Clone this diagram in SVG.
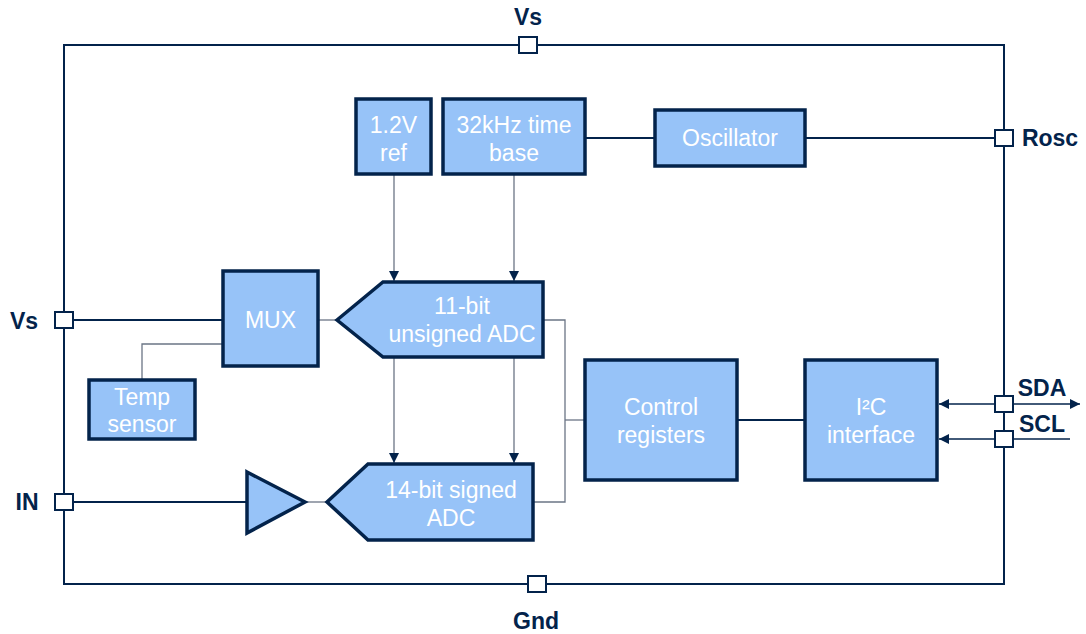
<svg xmlns="http://www.w3.org/2000/svg" width="1086" height="634" viewBox="0 0 1086 634">
<defs>
<style>
.blk{fill:#97c3f8;stroke:#03234b;stroke-width:3.5}
.t{font-family:"Liberation Sans",Arial,sans-serif;font-size:23px;fill:#ffffff;text-anchor:middle}
.pl{font-family:"Liberation Sans",Arial,sans-serif;font-size:23px;font-weight:bold;fill:#03234b;text-anchor:middle}
.pin{fill:#ffffff;stroke:#03234b;stroke-width:2}
.thin{fill:none;stroke:#6b7585;stroke-width:1.3}
.nav{fill:none;stroke:#03234b;stroke-width:2}
</style>
<marker id="ah" viewBox="0 0 10 10" refX="10" refY="5" markerWidth="10" markerHeight="10" markerUnits="userSpaceOnUse" orient="auto">
<path d="M0,0 L10,5 L0,10 z" fill="#03234b"/>
</marker>
</defs>
<rect width="1086" height="634" fill="#ffffff"/>
<g id="frame">
<rect x="64" y="45" width="940" height="539" fill="none" stroke="#03234b" stroke-width="2"/>
</g>
<g id="connectors">
<line class="thin" x1="394" y1="174" x2="394" y2="281" marker-end="url(#ah)"/>
<line class="thin" x1="514" y1="174" x2="514" y2="281" marker-end="url(#ah)"/>
<line class="thin" x1="394" y1="357" x2="394" y2="463" marker-end="url(#ah)"/>
<line class="thin" x1="514" y1="357" x2="514" y2="463" marker-end="url(#ah)"/>
<line class="nav" x1="585" y1="138" x2="655" y2="138"/>
<line class="nav" x1="805" y1="138" x2="997" y2="138"/>
<line class="nav" x1="71" y1="320" x2="223" y2="320"/>
<polyline class="thin" points="142,380 142,344 223,344"/>
<line class="thin" x1="318" y1="320" x2="337" y2="320"/>
<line class="nav" x1="71" y1="502" x2="247" y2="502"/>
<line class="thin" x1="305" y1="502" x2="327" y2="502"/>
<polyline class="thin" points="543,320 565,320 565,502 533,502"/>
<line class="thin" x1="565" y1="420" x2="585" y2="420"/>
<line class="nav" x1="737" y1="420" x2="805" y2="420"/>
<line class="thin" style="stroke:#03234b" x1="997" y1="404" x2="939" y2="404" marker-end="url(#ah)"/>
<line class="thin" style="stroke:#03234b" x1="1011" y1="404" x2="1080" y2="404" marker-end="url(#ah)"/>
<line class="thin" style="stroke:#03234b" x1="1070" y1="439" x2="939" y2="439" marker-end="url(#ah)"/>
</g>
<g id="pins">
<rect class="pin" x="519" y="37" width="18" height="16"/>
<text class="pl" x="528" y="25">Vs</text>
<rect class="pin" x="528" y="576" width="18" height="16"/>
<text class="pl" x="536" y="629">Gnd</text>
<rect class="pin" x="55" y="312" width="18" height="16"/>
<text class="pl" x="24" y="329">Vs</text>
<rect class="pin" x="55" y="494" width="18" height="16"/>
<text class="pl" x="27" y="510">IN</text>
<rect class="pin" x="995" y="130" width="18" height="16"/>
<text class="pl" x="1050" y="146">Rosc</text>
<rect class="pin" x="995" y="396" width="18" height="16"/>
<text class="pl" x="1042" y="396">SDA</text>
<rect class="pin" x="995" y="431" width="18" height="16"/>
<text class="pl" x="1042" y="432">SCL</text>
</g>
<g id="ref12">
<rect class="blk" x="356" y="99" width="75" height="75"/>
<text class="t" x="393.5" y="133">1.2V</text>
<text class="t" x="393.5" y="161">ref</text>
</g>
<g id="timebase">
<rect class="blk" x="443" y="99" width="142" height="75"/>
<text class="t" x="514" y="133">32kHz time</text>
<text class="t" x="514" y="161">base</text>
</g>
<g id="oscillator">
<rect class="blk" x="655" y="110" width="150" height="56"/>
<text class="t" x="730" y="146">Oscillator</text>
</g>
<g id="mux">
<rect class="blk" x="223" y="271" width="95" height="95"/>
<text class="t" x="270.5" y="328">MUX</text>
</g>
<g id="temp">
<rect class="blk" x="89" y="380" width="106" height="59"/>
<text class="t" x="142" y="405">Temp</text>
<text class="t" x="142" y="432">sensor</text>
</g>
<g id="adc11">
<polygon class="blk" points="337,320 383,282 543,282 543,357 383,357"/>
<text class="t" x="462" y="314">11-bit</text>
<text class="t" x="462" y="342">unsigned ADC</text>
</g>
<g id="adc14">
<polygon class="blk" points="327,502 368,464 533,464 533,540 368,540"/>
<text class="t" x="451" y="498">14-bit signed</text>
<text class="t" x="451" y="526">ADC</text>
</g>
<g id="amp">
<polygon class="blk" points="247,472 305,502 247,533"/>
</g>
<g id="control">
<rect class="blk" x="585" y="360" width="152" height="120"/>
<text class="t" x="661" y="415">Control</text>
<text class="t" x="661" y="443">registers</text>
</g>
<g id="i2c">
<rect class="blk" x="805" y="360" width="132" height="120"/>
<text class="t" x="871" y="415">I²C</text>
<text class="t" x="871" y="443">interface</text>
</g>
</svg>
